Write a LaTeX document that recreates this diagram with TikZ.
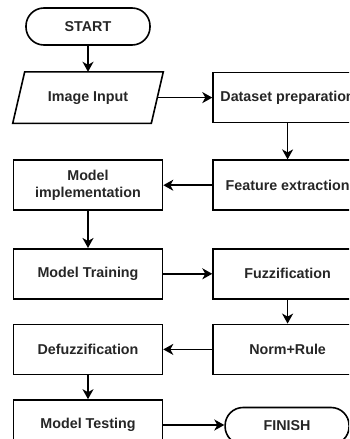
\documentclass[tikz,border=0pt]{standalone}
\usepackage{fontspec}
\setmainfont{Liberation Sans}
\usetikzlibrary{positioning,arrows.meta}

\begin{document}
\begin{tikzpicture}[x=1pt, y=1pt, line width=1.6pt,
    >={Stealth[length=10pt,width=11pt,inset=3pt]},
    every node/.style={font=\fontsize{14.3}{17.5}\selectfont\bfseries, text=black!85},
    box/.style={draw, rectangle, minimum width=149pt, minimum height=50pt, align=center, inner sep=2pt},
    term/.style={draw, rectangle, rounded corners=18pt, minimum width=124pt, minimum height=37pt},
    io/.style={rectangle, minimum width=137pt, minimum height=50pt}]
    \useasboundingbox (0,0) rectangle (349,-439);
    \clip (0,0) rectangle (349,-439);
    \node (start)  [term] at (88,-26.5) {START};
    \node (input)  [io, below=26pt of start] {Image Input};
    \draw ([xshift=-6pt]input.south west) -- ([xshift=6pt]input.north west)
      -- ([xshift=6pt]input.north east) -- ([xshift=-6pt]input.south east) -- cycle;
    \node (data)   [box, right=55pt of input] {Dataset preparation};
    \node (feat)   [box, below=36pt of data] {Feature extraction};
    \node (impl)   [box, left=49pt of feat] {Model\\implementation};
    \node (train)  [box, below=37pt of impl] {Model Training};
    \node (fuzz)   [box, right=49pt of train] {Fuzzification};
    \node (rule)   [box, below=24pt of fuzz] {Norm+Rule};
    \node (defuzz) [box, left=49pt of rule] {Defuzzification};
    \node (test)   [box, below=24pt of defuzz] {Model Testing};
    \node (finish) [term, right=61pt of test, yshift=-1pt] {FINISH};
    \draw[->] (start) -- (input);
    \draw[->] (input) -- (data);
    \draw[->] (data) -- (feat);
    \draw[->] (feat) -- (impl);
    \draw[->] (impl) -- (train);
    \draw[->] (train) -- (fuzz);
    \draw[->] (fuzz) -- (rule);
    \draw[->] (rule) -- (defuzz);
    \draw[->] (defuzz) -- (test);
    \draw[->] (test.east) -- (test.east -| finish.west);
  \end{tikzpicture}
\end{document}
